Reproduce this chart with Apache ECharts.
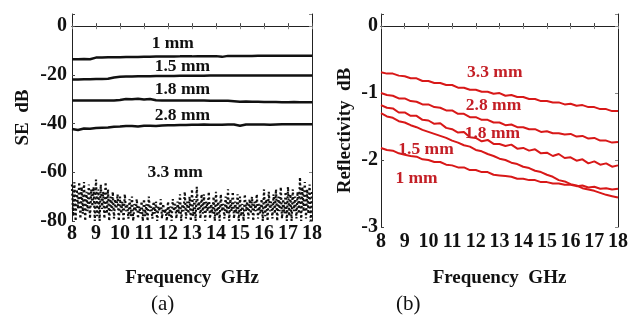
<!DOCTYPE html>
<html><head><meta charset="utf-8">
<script src="https://cdn.jsdelivr.net/npm/echarts@6/dist/echarts.min.js"></script>
<style>html,body{margin:0;padding:0;background:#fff}#c{width:631px;height:329px}</style>
</head><body><div id="c"></div>
<script>
// ---- data ----
var freq = [8,8.25,8.5,8.75,9,9.25,9.5,9.75,10,10.25,10.5,10.75,11,11.25,11.5,11.75,12,12.25,12.5,12.75,13,13.25,13.5,13.75,14,14.25,14.5,14.75,15,15.25,15.5,15.75,16,16.25,16.5,16.75,17,17.25,17.5,17.75,18];
var thickness = ['1 mm','1.5 mm','1.8 mm','2.8 mm','3.3 mm'];

// (a) shielding effectiveness, dB
var se1mm  = [-13.6,-13.6,-13.5,-13.6,-12.9,-12.9,-12.8,-12.8,-12.8,-12.7,-12.7,-12.7,-12.6,-12.6,-12.5,-12.5,-12.5,-12.5,-12.4,-12.4,-12.4,-12.3,-12.3,-12.3,-12.3,-12.6,-12.2,-12.2,-12.2,-12.2,-12.2,-12.1,-12.1,-12.1,-12.1,-12.1,-12.1,-12.1,-12.1,-12.1,-12.1];
var se15mm = [-21.9,-21.9,-21.8,-21.8,-21.7,-21.7,-21.6,-21.1,-20.8,-20.7,-20.7,-20.6,-20.6,-20.6,-20.5,-20.5,-20.5,-20.5,-20.4,-20.4,-20.4,-20.4,-20.4,-20.3,-20.3,-20.3,-20.3,-20.3,-20.3,-20.3,-20.3,-20.3,-20.3,-20.3,-20.3,-20.3,-20.3,-20.3,-20.3,-20.3,-20.3];
var se18mm = [-30.5,-30.5,-30.5,-30.5,-30.5,-30.5,-30.5,-30.5,-30.3,-29.9,-30.0,-29.8,-30.1,-29.9,-30.4,-30.5,-30.5,-30.5,-30.5,-30.5,-30.5,-30.5,-30.5,-30.6,-30.6,-30.6,-30.6,-30.8,-31.0,-30.9,-31.0,-31.0,-31.1,-31.1,-31.1,-31.2,-31.2,-31.1,-31.2,-31.2,-31.2];
var se28mm = [-42.2,-42.6,-42.0,-42.1,-41.8,-41.7,-41.6,-41.3,-41.2,-41.0,-41.0,-41.2,-40.9,-40.9,-41.0,-40.8,-40.7,-40.7,-40.6,-40.6,-40.5,-40.5,-40.4,-40.5,-40.5,-40.5,-40.4,-40.4,-40.9,-40.4,-40.4,-40.4,-40.4,-40.5,-40.4,-40.3,-40.3,-40.3,-40.3,-40.3,-40.3];
var freqNoise = [
 8.00,8.05,8.10,8.15,8.20,8.25,8.30,8.35,8.40,8.45, 8.50,8.55,8.60,8.65,8.70,8.75,8.80,8.85,8.90,8.95,
 9.00,9.05,9.10,9.15,9.20,9.25,9.30,9.35,9.40,9.45, 9.50,9.55,9.60,9.65,9.70,9.75,9.80,9.85,9.90,9.95,
 10.00,10.05,10.10,10.15,10.20,10.25,10.30,10.35,10.40,10.45, 10.50,10.55,10.60,10.65,10.70,10.75,10.80,10.85,10.90,10.95,
 11.00,11.05,11.10,11.15,11.20,11.25,11.30,11.35,11.40,11.45, 11.50,11.55,11.60,11.65,11.70,11.75,11.80,11.85,11.90,11.95,
 12.00,12.05,12.10,12.15,12.20,12.25,12.30,12.35,12.40,12.45, 12.50,12.55,12.60,12.65,12.70,12.75,12.80,12.85,12.90,12.95,
 13.00,13.05,13.10,13.15,13.20,13.25,13.30,13.35,13.40,13.45, 13.50,13.55,13.60,13.65,13.70,13.75,13.80,13.85,13.90,13.95,
 14.00,14.05,14.10,14.15,14.20,14.25,14.30,14.35,14.40,14.45, 14.50,14.55,14.60,14.65,14.70,14.75,14.80,14.85,14.90,14.95,
 15.00,15.05,15.10,15.15,15.20,15.25,15.30,15.35,15.40,15.45, 15.50,15.55,15.60,15.65,15.70,15.75,15.80,15.85,15.90,15.95,
 16.00,16.05,16.10,16.15,16.20,16.25,16.30,16.35,16.40,16.45, 16.50,16.55,16.60,16.65,16.70,16.75,16.80,16.85,16.90,16.95,
 17.00,17.05,17.10,17.15,17.20,17.25,17.30,17.35,17.40,17.45, 17.50,17.55,17.60,17.65,17.70,17.75,17.80,17.85,17.90,17.95,
 18.00];
var se33mm = [
 -65,-78,-64,-80,-67,-75,-64,-79,-66,-77, -64,-80,-68,-76,-65,-79,-67,-74,-66,-80,
 -63,-78,-67,-80,-65,-75,-68,-79,-64,-77, -67,-80,-70,-76,-68,-79,-71,-75,-69,-80,
 -70,-77,-72,-80,-69,-76,-73,-79,-71,-78, -70,-80,-73,-76,-71,-79,-74,-77,-72,-80,
 -71,-78,-73,-80,-70,-76,-74,-79,-72,-77, -72,-80,-74,-76,-71,-79,-73,-77,-75,-80,
 -72,-78,-74,-80,-71,-76,-73,-79,-72,-77, -69,-80,-73,-76,-68,-79,-72,-77,-70,-80,
 -67,-78,-71,-80,-66,-76,-72,-79,-69,-77, -69,-80,-72,-76,-68,-79,-73,-77,-70,-80,
 -68,-78,-72,-80,-69,-76,-73,-79,-70,-77, -67,-80,-71,-76,-68,-79,-72,-77,-69,-80,
 -70,-78,-73,-80,-69,-76,-72,-79,-71,-77, -70,-80,-72,-76,-69,-79,-73,-77,-71,-80,
 -67,-78,-71,-80,-68,-76,-72,-79,-69,-77, -67,-80,-70,-76,-66,-79,-71,-77,-68,-80,
 -66,-78,-69,-80,-67,-76,-70,-79,-68,-77, -62,-80,-66,-76,-64,-79,-67,-77,-65,-80,
 -67];

// (b) reflectivity, dB
var r1mm  = [-1.82,-1.85,-1.86,-1.90,-1.92,-1.94,-1.95,-1.99,-2.00,-2.03,-2.03,-2.07,-2.08,-2.11,-2.11,-2.15,-2.15,-2.18,-2.18,-2.22,-2.23,-2.24,-2.25,-2.28,-2.28,-2.30,-2.30,-2.33,-2.33,-2.35,-2.35,-2.37,-2.37,-2.39,-2.38,-2.41,-2.40,-2.43,-2.42,-2.44,-2.43];
var r15mm = [-1.30,-1.35,-1.37,-1.42,-1.44,-1.48,-1.51,-1.55,-1.58,-1.61,-1.64,-1.67,-1.71,-1.74,-1.78,-1.80,-1.85,-1.87,-1.91,-1.94,-1.98,-2.00,-2.04,-2.06,-2.10,-2.12,-2.16,-2.18,-2.22,-2.25,-2.30,-2.32,-2.36,-2.38,-2.42,-2.44,-2.46,-2.49,-2.52,-2.54,-2.56];
var r18mm = [-1.18,-1.22,-1.23,-1.29,-1.29,-1.34,-1.34,-1.40,-1.41,-1.46,-1.45,-1.52,-1.54,-1.59,-1.58,-1.66,-1.67,-1.72,-1.70,-1.76,-1.76,-1.79,-1.77,-1.83,-1.82,-1.86,-1.84,-1.90,-1.89,-1.94,-1.91,-1.97,-1.96,-2.01,-1.99,-2.05,-2.02,-2.07,-2.05,-2.10,-2.08];
var r28mm = [-1.00,-1.03,-1.04,-1.08,-1.08,-1.12,-1.13,-1.17,-1.17,-1.21,-1.22,-1.26,-1.26,-1.31,-1.31,-1.36,-1.36,-1.40,-1.40,-1.44,-1.44,-1.48,-1.47,-1.51,-1.51,-1.54,-1.54,-1.58,-1.57,-1.60,-1.60,-1.62,-1.61,-1.65,-1.64,-1.68,-1.67,-1.71,-1.71,-1.74,-1.73];
var r33mm = [-0.69,-0.71,-0.71,-0.74,-0.75,-0.78,-0.78,-0.82,-0.82,-0.85,-0.85,-0.88,-0.88,-0.92,-0.92,-0.95,-0.95,-0.98,-0.98,-1.01,-1.00,-1.04,-1.03,-1.06,-1.06,-1.09,-1.09,-1.12,-1.12,-1.14,-1.14,-1.17,-1.16,-1.19,-1.18,-1.21,-1.21,-1.24,-1.24,-1.27,-1.27];

// in-plot label anchors (data coordinates)
var seLabelX = [12.2, 12.6, 12.6, 12.6, 12.3];
var seLabelY = [-7, -16.5, -26, -36.5, -60];
var rLabelX = [9.5, 9.9, 12.7, 12.75, 12.8];
var rLabelY = [-2.28, -1.85, -1.61, -1.19, -0.70];

// ---- chart ----
var FONT = "'Liberation Serif','Times New Roman',serif";
var RED = '#d81818';
var RED_TXT = '#c41f26';
function pairs(xs, ys){ return xs.map(function(x,i){ return [x, ys[i]]; }); }
function labelSeries(xi, yi, xs, ys, names, color){
  return {
    type:'scatter', xAxisIndex:xi, yAxisIndex:yi, symbolSize:0, silent:true, z:5,
    itemStyle:{opacity:1},
    data: xs.map(function(x,i){ return {value:[x, ys[i]], name:names[i]}; }),
    label:{show:true, position:'inside', formatter:'{b}', color:color, textBorderWidth:0, opacity:1,
      fontFamily:FONT, fontWeight:'bold', fontSize:17.5}
  };
}
var tickLbl = {fontFamily:FONT, fontWeight:'bold', fontSize:20, color:'#111'};
var nameStyle = {fontFamily:FONT, fontWeight:'bold', fontSize:19, color:'#111'};

function xAx(gi, margin, nameGap){
  return {type:'value', gridIndex:gi, min:8, max:18, interval:1,
    axisLine:{lineStyle:{color:'#222', width:1}},
    axisTick:{inside:true, length:3, lineStyle:{color:'#444'}},
    splitLine:{show:false},
    axisLabel:Object.assign({margin:margin}, tickLbl),
    name:'Frequency  GHz', nameLocation:'middle', nameGap:nameGap, nameTextStyle:nameStyle};
}
function xTop(gi){
  return {type:'value', gridIndex:gi, min:8, max:18, interval:1, position:'top',
    axisLine:{lineStyle:{color:'#222'}}, axisTick:{inside:true, length:3, lineStyle:{color:'#888'}},
    axisLabel:{show:false}, splitLine:{show:false}};
}

var chart = echarts.init(document.getElementById('c'), null, {renderer:'canvas'});
chart.setOption({
  animation:false,
  backgroundColor:'#fff',
  grid:[
    {left:72, top:14, width:240, height:207, show:false},
    {left:381, top:14, width:239, height:213, show:false}
  ],
  xAxis:[ xAx(0, 3, 48), xAx(1, 5, 42), xTop(0), xTop(1) ],
  yAxis:[
    {type:'value', gridIndex:0, min:-80, max:5, interval:20,
      axisLine:{show:true, lineStyle:{color:'#222'}},
      axisTick:{inside:true, length:3, lineStyle:{color:'#444'}},
      splitLine:{show:false},
      axisLabel:Object.assign({margin:5, formatter:function(v){return v%20===0?String(v):'';}}, tickLbl),
      name:'SE  dB', nameLocation:'middle', nameGap:39, nameRotate:90, nameTextStyle:nameStyle},
    {type:'value', gridIndex:1, min:-3, max:0.18, interval:1,
      axisLine:{show:true, lineStyle:{color:'#222'}},
      axisTick:{inside:true, length:3, lineStyle:{color:'#444'}},
      splitLine:{show:false},
      axisLabel:Object.assign({margin:3, formatter:function(v){return Math.abs(v-Math.round(v))<1e-9?String(Math.round(v)):'';}}, tickLbl),
      name:'Reflectivity  dB', nameLocation:'middle', nameGap:26, nameRotate:90,
      nameTextStyle:Object.assign({padding:[0,20,0,0]}, nameStyle)},
    {type:'value', gridIndex:0, min:-80, max:5, interval:20, position:'right',
      axisLine:{show:true, lineStyle:{color:'#222'}}, axisTick:{inside:true, length:3, lineStyle:{color:'#888'}},
      axisLabel:{show:false}, splitLine:{show:false}},
    {type:'value', gridIndex:1, min:-3, max:0.18, interval:1, position:'right',
      axisLine:{show:true, lineStyle:{color:'#222'}}, axisTick:{inside:true, length:3, lineStyle:{color:'#888'}},
      axisLabel:{show:false}, splitLine:{show:false}}
  ],
  series:[
    {type:'line', xAxisIndex:0, yAxisIndex:0, data:pairs(freq, se1mm), showSymbol:false, lineStyle:{color:'#111', width:2.5}},
    {type:'line', xAxisIndex:0, yAxisIndex:0, data:pairs(freq, se15mm), showSymbol:false, lineStyle:{color:'#111', width:2.5}},
    {type:'line', xAxisIndex:0, yAxisIndex:0, data:pairs(freq, se18mm), showSymbol:false, lineStyle:{color:'#111', width:2.5}},
    {type:'line', xAxisIndex:0, yAxisIndex:0, data:pairs(freq, se28mm), showSymbol:false, lineStyle:{color:'#111', width:2.5}},
    {type:'line', xAxisIndex:0, yAxisIndex:0, data:pairs(freqNoise, se33mm), showSymbol:false, lineStyle:{color:'#111', width:2.2, type:[2,2.6]}},
    labelSeries(0, 0, seLabelX, seLabelY, thickness, '#111'),
    {type:'line', xAxisIndex:1, yAxisIndex:1, data:pairs(freq, r1mm), showSymbol:false, lineStyle:{color:RED, width:2}},
    {type:'line', xAxisIndex:1, yAxisIndex:1, data:pairs(freq, r15mm), showSymbol:false, lineStyle:{color:RED, width:2}},
    {type:'line', xAxisIndex:1, yAxisIndex:1, data:pairs(freq, r18mm), showSymbol:false, lineStyle:{color:RED, width:2}},
    {type:'line', xAxisIndex:1, yAxisIndex:1, data:pairs(freq, r28mm), showSymbol:false, lineStyle:{color:RED, width:2}},
    {type:'line', xAxisIndex:1, yAxisIndex:1, data:pairs(freq, r33mm), showSymbol:false, lineStyle:{color:RED, width:2}},
    labelSeries(1, 1, rLabelX, rLabelY, thickness, RED_TXT)
  ],
  graphic:[
    {type:'text', left:151, top:294, style:{text:'(a)', font:"21px "+FONT, fill:'#111'}},
    {type:'text', left:396, top:294, style:{text:'(b)', font:"21px "+FONT, fill:'#111'}}
  ]
});
</script></body></html>
